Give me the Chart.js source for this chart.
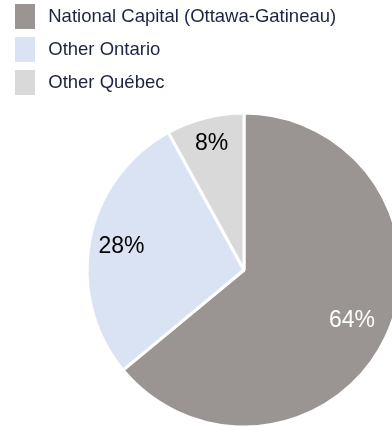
<!DOCTYPE html>
<html>
<head>
<meta charset="utf-8">
<script src="https://cdn.jsdelivr.net/npm/chart.js@4"></script>
<style>
  html, body { margin: 0; padding: 0; background: #fff; overflow: hidden; width: 392px; height: 426px; }
  canvas { display: block; }
</style>
</head>
<body>
<canvas id="regionPie" width="477" height="538"></canvas>
<script>
var regions = ["National Capital (Ottawa-Gatineau)", "Other Ontario", "Other Québec"];
var shares = [64, 28, 8];
var sliceColors = ["#9a9593", "#dae3f3", "#d9d9d9"];
var labelColors = ["#ffffff", "#000000", "#000000"];
// how far out along the radius each percentage sits
var labelDistance = [0.76, 0.795, 0.83];

// percentage text inside each slice
var sliceLabels = {
  id: "sliceLabels",
  afterDatasetsDraw: function (chart) {
    var ctx = chart.ctx;
    var arcs = chart.getDatasetMeta(0).data;
    ctx.save();
    ctx.font = "23px 'Liberation Sans', Arial, sans-serif";
    ctx.textAlign = "center";
    ctx.textBaseline = "middle";
    arcs.forEach(function (arc, i) {
      var mid = (arc.startAngle + arc.endAngle) / 2;
      var r = arc.outerRadius * labelDistance[i];
      ctx.fillStyle = labelColors[i];
      ctx.fillText(shares[i] + "%", arc.x + Math.cos(mid) * r, arc.y + Math.sin(mid) * r);
    });
    ctx.restore();
  }
};

new Chart("regionPie", {
  type: "pie",
  data: {
    labels: regions,
    datasets: [{
      data: shares,
      backgroundColor: sliceColors,
      borderColor: "#ffffff",
      borderWidth: 3
    }]
  },
  options: {
    responsive: false,
    animation: false,
    radius: 157,
    layout: { padding: { left: 11, top: 2, right: 0, bottom: 0 } },
    plugins: {
      legend: {
        position: "chartArea",
        align: "start",
        labels: {
          // wide white outline trims the swatch and leaves a gap before the text
          boxWidth: 28,
          boxHeight: 33,
          padding: 0,
          font: { family: "'Liberation Sans', Arial, sans-serif", size: 18.5 },
          generateLabels: function (chart) {
            return regions.map(function (name, i) {
              return {
                text: name,
                fillStyle: sliceColors[i],
                strokeStyle: "#ffffff",
                lineWidth: 8,
                fontColor: "#1d2440",
                hidden: false,
                index: i
              };
            });
          }
        }
      },
      tooltip: { enabled: false }
    }
  },
  plugins: [sliceLabels]
});
</script>
</body>
</html>
